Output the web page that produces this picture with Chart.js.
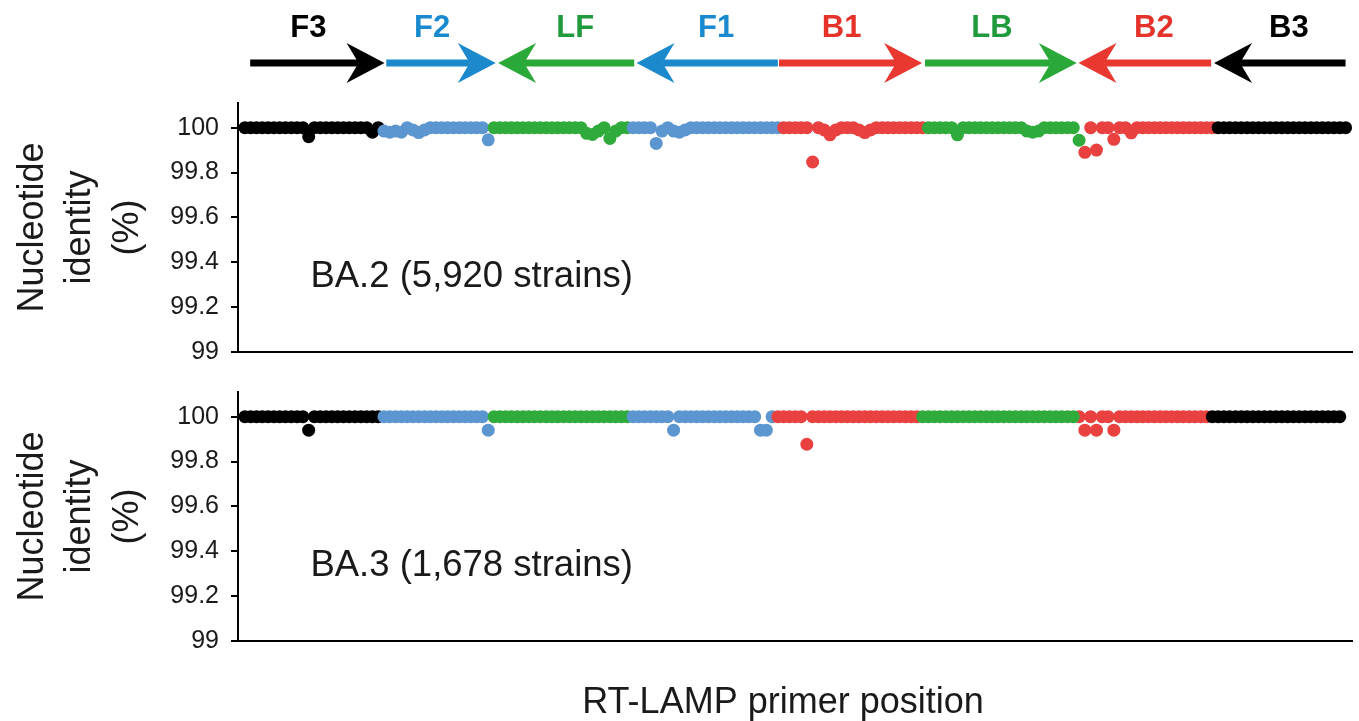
<!DOCTYPE html>
<html><head><meta charset="utf-8">
<script src="https://cdn.jsdelivr.net/npm/chart.js@4.4.1/dist/chart.umd.min.js"></script>
<style>
html,body{margin:0;padding:0;background:#fff;overflow:hidden}
#wrap{position:relative;width:1359px;height:721px;background:#fff}
canvas{position:absolute;left:0}
#c1{top:0}
#c2{top:362px}
</style></head><body>
<div id="wrap">
<canvas id="c1" width="1359" height="382"></canvas>
<canvas id="c2" width="1359" height="359"></canvas>
</div>
<script>
// ---------- DATA ----------
const primers = ['F3','F2','LF','F1','B1','LB','B2','B3'];
const yTicks = [99, 99.2, 99.4, 99.6, 99.8, 100];
const yTitle = ['Nucleotide', 'identity', '(%)'];
const xTitle = 'RT-LAMP primer position';
const panelLabels = ['BA.2 (5,920 strains)', 'BA.3 (1,678 strains)'];

// BA.2 nucleotide identity (%) per primer position
const ba2_F3 = [100,100,100,100,100,100,100,100,100,100,100,99.96,100,100,100,100,100,100,100,100,100,100,99.98,100];
const ba2_F2 = [99.985,99.98,99.985,99.98,100,99.99,99.978,99.99,100,100,100,100,100,100,100,100,100,100,99.946];
const ba2_LF = [100,100,100,100,100,100,100,100,100,100,100,100,100,100,100,100,99.975,99.97,99.985,100,99.952,99.985,100,100];
const ba2_F1 = [100,100,100,100,99.93,99.985,100,99.985,99.98,99.99,100,100,100,100,100,100,100,100,100,100,100,100,100,100,100,100];
const ba2_B1 = [100,100,100,100,100,99.847,100,99.99,99.968,99.99,100,100,100,99.99,99.978,99.99,100,100,100,100,100,100,100,100,100];
const ba2_LB = [100,100,100,100,100,99.968,100,100,100,100,100,100,100,100,100,100,100,99.985,99.98,99.985,100,100,100,100,100,100,99.944];
const ba2_B2 = [99.89,100,99.9,100,100,99.948,100,100,99.977,100,100,100,100,100,100,100,100,100,100,100,100,100,100];
const ba2_B3 = [100,100,100,100,100,100,100,100,100,100,100,100,100,100,100,100,100,100,100,100,100,100,100];

// BA.3 nucleotide identity (%) per primer position
const ba3_F3 = [100,100,100,100,100,100,100,100,100,100,100,99.94,100,100,100,100,100,100,100,100,100,100,100,100];
const ba3_F2 = [100,100,100,100,100,100,100,100,100,100,100,100,100,100,100,100,100,100,99.94];
const ba3_LF = [100,100,100,100,100,100,100,100,100,100,100,100,100,100,100,100,100,100,100,100,100,100,100,100];
const ba3_F1 = [100,100,100,100,100,100,100,99.94,100,100,100,100,100,100,100,100,100,100,100,100,100,100,99.94,99.94,100];
const ba3_B1 = [100,100,100,100,100,99.877,100,100,100,100,100,100,100,100,100,100,100,100,100,100,100,100,100,100,100];
const ba3_LB = [100,100,100,100,100,100,100,100,100,100,100,100,100,100,100,100,100,100,100,100,100,100,100,100,100,100,100];
const ba3_B2 = [100,99.94,100,99.94,100,100,99.94,100,100,100,100,100,100,100,100,100,100,100,100,100,100,100,100];
const ba3_B3 = [100,100,100,100,100,100,100,100,100,100,100,100,100,100,100,100,100,100,100,100,100,100,100];

// primer arrows (in primer-position units)
const arrowTail = [0.9, 24.4, 67.2, 92.0, 92.2, 117.4, 166.8, 190.0];
const arrowTip  = [24.1, 43.3, 43.7, 67.6, 116.9, 143.6, 143.9, 167.3];

// ---------- STYLE ----------
const FONT = "'Liberation Sans', Arial, Helvetica, sans-serif";
const dotColors   = ['#000000','#5c96d0','#2fab3b','#5c96d0','#e8413f','#2fab3b','#e8413f','#000000'];
const arrowColors = ['#000000','#1b89cc','#2aa838','#1b89cc','#e8382f','#2aa838','#e8382f','#000000'];
const labelColors = ['#000000','#1a8ad0','#1f9a3c','#1a8ad0','#e5332c','#1f9a3c','#e5332c','#000000'];
const drawOrder = [0,-1,-2,-3,-4,-7,-5,-6];

const ba2Series = [ba2_F3, ba2_F2, ba2_LF, ba2_F1, ba2_B1, ba2_LB, ba2_B2, ba2_B3];
const ba3Series = [ba3_F3, ba3_F2, ba3_LF, ba3_F1, ba3_B1, ba3_LB, ba3_B2, ba3_B3];

function startsOf(series){
  const s = []; let acc = 0;
  series.forEach(a => { s.push(acc); acc += a.length; });
  return s;
}

const annot = {
  id: 'annot',
  afterDatasetsDraw(chart, args, opts) {
    const ctx = chart.ctx, xs = chart.scales.x, ys = chart.scales.y;
    ctx.save();
    // panel label
    ctx.font = `36.5px ${FONT}`;
    ctx.fillStyle = '#1a1a1a';
    ctx.textAlign = 'left';
    ctx.textBaseline = 'middle';
    ctx.fillText(opts.label, xs.getPixelForValue(11.3), ys.getPixelForValue(99.335));
    if (opts.xTitle) {
      ctx.textAlign = 'center';
      ctx.font = `36px ${FONT}`;
      ctx.fillText(xTitle, 783, chart.height - 18);
    }
    if (opts.arrows) {
      const ay = 63, L = 38, H = 20, N = 12;
      primers.forEach((p, k) => {
        const tx = xs.getPixelForValue(arrowTail[k]);
        const hx = xs.getPixelForValue(arrowTip[k]);
        const dir = hx > tx ? 1 : -1;
        ctx.strokeStyle = arrowColors[k];
        ctx.fillStyle = arrowColors[k];
        ctx.lineWidth = 7;
        ctx.lineCap = 'butt';
        ctx.beginPath();
        ctx.moveTo(tx, ay);
        ctx.lineTo(hx - dir * (L - N), ay);
        ctx.stroke();
        ctx.beginPath();
        ctx.moveTo(hx, ay);
        ctx.lineTo(hx - dir * L, ay - H);
        ctx.lineTo(hx - dir * (L - N), ay);
        ctx.lineTo(hx - dir * L, ay + H);
        ctx.closePath();
        ctx.fill();
        ctx.font = `bold 31px ${FONT}`;
        ctx.fillStyle = labelColors[k];
        ctx.textAlign = 'center';
        ctx.textBaseline = 'middle';
        ctx.fillText(p, (tx + hx) / 2 - dir * 9, 28);
      });
    }
    ctx.restore();
  }
};

function makeChart(id, series, label, pad, xh, showXTitle, arrows) {
  const starts = startsOf(series);
  return new Chart(document.getElementById(id), {
    type: 'scatter',
    data: {
      datasets: primers.map((p, k) => ({
        label: p,
        data: series[k].map((v, i) => ({x: starts[k] + i, y: v})),
        pointRadius: 6.5,
        pointHoverRadius: 6.5,
        pointBackgroundColor: dotColors[k],
        pointBorderWidth: 0,
        borderWidth: 0,
        showLine: false,
        clip: false,
        order: drawOrder[k]
      }))
    },
    options: {
      responsive: false,
      animation: false,
      events: [],
      layout: {padding: pad},
      plugins: {
        legend: {display: false},
        tooltip: {enabled: false},
        annot: {label: label, arrows: arrows, xTitle: showXTitle}
      },
      scales: {
        x: {
          type: 'linear', min: -1.2, max: 191.2,
          ticks: {display: false},
          grid: {display: false},
          border: {display: true, color: '#000', width: 2},
          afterFit: s => { s.height = xh; },
          title: {display: false}
        },
        y: {
          min: 99, max: 100.11,
          afterBuildTicks: s => { s.ticks = yTicks.map(v => ({value: v})); },
          ticks: {
            font: {family: FONT, size: 25}, color: '#1a1a1a', padding: 12,
            callback: v => (Math.round(v * 10) / 10).toString()
          },
          grid: {display: true, drawOnChartArea: false, drawTicks: true, tickLength: 7, color: '#000', lineWidth: 2},
          border: {display: true, color: '#000', width: 2},
          afterFit: s => { s.width = 238; },
          title: {display: true, text: yTitle, color: '#1a1a1a',
                  font: {family: FONT, size: 36, lineHeight: 1.32}, padding: {top: 9, bottom: 0}}
        }
      }
    },
    plugins: [annot]
  });
}

makeChart('c1', ba2Series, panelLabels[0], {top: 103, bottom: 30, left: 0, right: 2}, 0, false, true);
makeChart('c2', ba3Series, panelLabels[1], {top: 30, bottom: 0, left: 0, right: 2}, 80, true, false);
</script>
</body></html>
